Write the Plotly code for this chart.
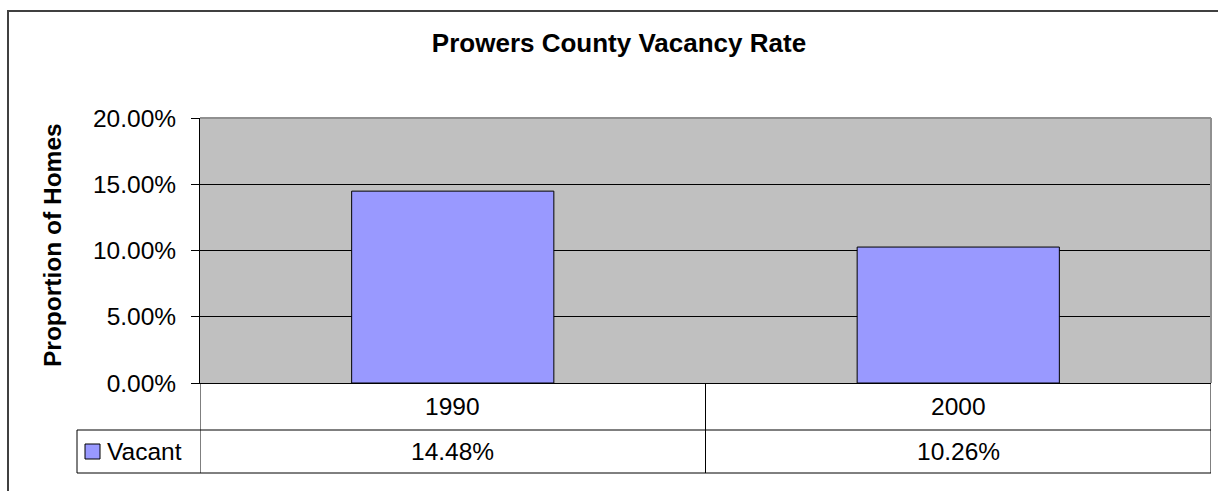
import plotly.graph_objects as go

# ---- data ----
categories = ["1990", "2000"]
series_name = "Vacant"
vacant = [0.1448, 0.1026]
y_ticks = [0.0, 0.05, 0.10, 0.15, 0.20]
title_text = "Prowers County Vacancy Rate"
y_title = "Proportion of Homes"

# ---- layout geometry (page pixels) ----
W, H = 1218, 491
L, R, T, B = 200, 1211, 118, 383  # plot area
FONT = "Liberation Sans, Arial, sans-serif"
BAR_COLOR = "#9999FF"
FS = 24.5


def px(xp):
    return (xp - L) / (R - L)


def py(yp):
    return (B - yp) / (B - T)


fig = go.Figure()
fig.add_trace(go.Bar(
    x=categories, y=vacant, name=series_name,
    marker=dict(color=BAR_COLOR, line=dict(color="#000000", width=1)),
    hoverinfo="skip",
))

row1_top, row1_bot, row2_bot = 383, 430, 473
legend_left = 77
n = len(categories)

shapes = []
# outer chart border (top and left edges visible)
shapes.append(dict(type="line", xref="paper", yref="paper",
                   x0=px(7), x1=px(W), y0=py(11), y1=py(11),
                   line=dict(color="#404040", width=2), layer="below"))
shapes.append(dict(type="line", xref="paper", yref="paper",
                   x0=px(8), x1=px(8), y0=py(10), y1=py(H),
                   line=dict(color="#404040", width=2), layer="below"))
# plot area top / right gray frame
shapes.append(dict(type="line", xref="paper", yref="paper",
                   x0=0, x1=1, y0=1, y1=1, line=dict(color="#909090", width=2)))
shapes.append(dict(type="line", xref="paper", yref="paper",
                   x0=1, x1=1, y0=0, y1=1, line=dict(color="#909090", width=2)))
# data table lines
for i in range(n + 1):
    shapes.append(dict(type="line", xref="x", yref="paper",
                       x0=i - 0.5, x1=i - 0.5, y0=py(row1_top), y1=py(row2_bot),
                       line=dict(color="#000000", width=1)))
for yy in (row1_bot, row2_bot):
    shapes.append(dict(type="line", xref="paper", yref="paper",
                       x0=px(legend_left), x1=1, y0=py(yy), y1=py(yy),
                       line=dict(color="#000000", width=1)))
shapes.append(dict(type="line", xref="paper", yref="paper",
                   x0=px(legend_left), x1=px(legend_left), y0=py(row1_bot), y1=py(row2_bot),
                   line=dict(color="#000000", width=1)))
# legend key
shapes.append(dict(type="rect", xref="paper", yref="paper",
                   x0=px(85), x1=px(100), y0=py(444), y1=py(459),
                   fillcolor=BAR_COLOR, line=dict(color="#000000", width=1)))

annotations = []
mid1 = (row1_top + row1_bot) / 2
mid2 = (row1_bot + row2_bot) / 2
for i, (c, v) in enumerate(zip(categories, vacant)):
    annotations.append(dict(x=i, xref="x", y=py(mid1), yref="paper", text=c,
                            showarrow=False, xanchor="center", yanchor="middle",
                            font=dict(family=FONT, size=FS, color="#000000")))
    annotations.append(dict(x=i, xref="x", y=py(mid2), yref="paper",
                            text=f"{v * 100:.2f}%",
                            showarrow=False, xanchor="center", yanchor="middle",
                            font=dict(family=FONT, size=FS, color="#000000")))
annotations.append(dict(x=px(105), xref="paper", y=py(mid2), yref="paper", text=series_name,
                        showarrow=False, xanchor="left", yanchor="middle",
                        font=dict(family=FONT, size=FS, color="#000000")))
annotations.append(dict(x=px(52), xref="paper", y=py(245), yref="paper", text=f"<b>{y_title}</b>",
                        showarrow=False, textangle=-90, xanchor="center", yanchor="middle",
                        font=dict(family=FONT, size=FS, color="#000000")))

fig.update_layout(
    width=W, height=H,
    margin=dict(l=L, r=W - R, t=T, b=H - B, pad=0),
    paper_bgcolor="#FFFFFF", plot_bgcolor="#C0C0C0",
    showlegend=False, bargap=0.6,
    font=dict(family=FONT, size=FS, color="#000000"),
    title=dict(text=f"<b>{title_text}</b>", xref="container", yref="container",
               x=619 / W, y=1 - 43 / H, xanchor="center", yanchor="middle",
               font=dict(family=FONT, size=26, color="#000000")),
    xaxis=dict(type="category", showticklabels=False, showgrid=False, ticks="", showline=True,
               linecolor="#000000", linewidth=1, zeroline=False,
               range=[-0.5, n - 0.5], fixedrange=True),
    yaxis=dict(range=[0, 0.2], tickvals=y_ticks, tickformat=".2%",
               showgrid=True, gridcolor="#000000", gridwidth=1,
               ticks="outside", ticklen=8, tickcolor="#000000", tickwidth=1,
               showline=True, linecolor="#000000", linewidth=1, zeroline=False,
               ticklabelstandoff=10, tickfont=dict(family=FONT, size=FS, color="#000000"),
               fixedrange=True),
    shapes=shapes, annotations=annotations,
)

fig.write_html(
    "out.html",
    config={"displayModeBar": False, "staticPlot": True},
    post_script="document.body.style.margin='0';document.body.style.overflow='hidden';",
)
